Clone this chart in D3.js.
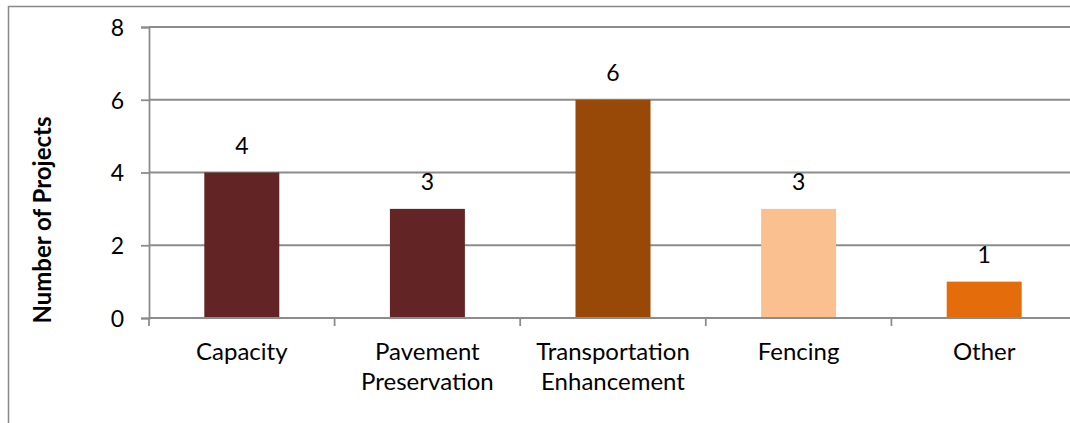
<!DOCTYPE html>
<html>
<head>
<meta charset="utf-8">
<script src="https://d3js.org/d3.v7.min.js"></script>
<style>
body { margin: 0; padding: 0; background: white; }
svg text { font-family: Lato, "Open Sans", sans-serif; fill: black; }
</style>
</head>
<body>
<svg id="chart" width="1070" height="423"></svg>
<script>
// data
var categories = ["Capacity", "Pavement Preservation", "Transportation Enhancement", "Fencing", "Other"];
var projects = [4, 3, 6, 3, 1];
var barColors = ["#632426", "#632426", "#984807", "#FAC090", "#E46C0A"];
var yTicks = [0, 2, 4, 6, 8];
var yTitle = "Number of Projects";

var svg = d3.select("#chart");

// outer chart border (right and bottom edges run off the picture)
svg.append("rect")
  .attr("x", 8.5).attr("y", 6.5)
  .attr("width", 1100).attr("height", 500)
  .attr("fill", "none")
  .attr("stroke", "#888")
  .attr("stroke-width", 1.5);

var plotL = 149, plotR = 1077, plotT = 27, plotB = 318;

var y = d3.scaleLinear().domain([0, 8]).range([plotB, plotT]);

// slots for ticks and labels, bars sit in the middle of each slot
var xSlot = d3.scaleBand().domain(categories).range([plotL, plotR]).padding(0);
var xBar = d3.scaleBand().domain(categories).range([plotL, plotR])
  .paddingInner(0.596).paddingOuter(0.298);

// gridlines
svg.append("g")
  .selectAll("line")
  .data(yTicks.filter(function(d) { return d > 0; }))
  .enter().append("line")
  .attr("x1", plotL).attr("x2", 1070)
  .attr("y1", function(d) { return y(d); })
  .attr("y2", function(d) { return y(d); })
  .attr("stroke", "#8c8c8c")
  .attr("stroke-width", 1.8);

// y axis
var yAxis = d3.axisLeft(y).tickValues(yTicks).tickSize(8).tickPadding(17);
var gy = svg.append("g").attr("transform", "translate(" + plotL + ",0)").call(yAxis);
gy.select(".domain").attr("stroke", "#8c8c8c").attr("stroke-width", 1.8);
gy.selectAll(".tick line").attr("stroke", "#8c8c8c").attr("stroke-width", 1.8);
gy.selectAll(".tick text").style("font-size", "23px").attr("dy", "0.36em");

// bars
svg.append("g")
  .selectAll("rect")
  .data(categories)
  .enter().append("rect")
  .attr("x", function(d) { return xBar(d); })
  .attr("y", function(d, i) { return y(projects[i]); })
  .attr("width", xBar.bandwidth())
  .attr("height", function(d, i) { return y(0) - y(projects[i]); })
  .attr("fill", function(d, i) { return barColors[i]; });

// value labels
svg.append("g")
  .selectAll("text")
  .data(categories)
  .enter().append("text")
  .attr("x", function(d) { return xBar(d) + xBar.bandwidth() / 2; })
  .attr("y", function(d, i) { return y(projects[i]) - 19; })
  .attr("text-anchor", "middle")
  .style("font-size", "23px")
  .text(function(d, i) { return projects[i]; });

// x axis line + boundary ticks
svg.append("line")
  .attr("x1", plotL).attr("x2", 1070)
  .attr("y1", plotB).attr("y2", plotB)
  .attr("stroke", "#8c8c8c").attr("stroke-width", 1.8);

svg.append("g")
  .selectAll("line")
  .data(categories)
  .enter().append("line")
  .attr("x1", function(d) { return xSlot(d); })
  .attr("x2", function(d) { return xSlot(d); })
  .attr("y1", plotB).attr("y2", plotB + 8)
  .attr("stroke", "#8c8c8c").attr("stroke-width", 1.8);

// category labels, wrapped on two lines where needed
var lbl = svg.append("g")
  .selectAll("text")
  .data(categories)
  .enter().append("text")
  .attr("x", function(d) { return xSlot(d) + xSlot.bandwidth() / 2; })
  .attr("y", 360)
  .attr("text-anchor", "middle")
  .style("font-size", "24px");

lbl.each(function(d) {
  var words = d.split(" ");
  var t = d3.select(this);
  words.forEach(function(w, k) {
    t.append("tspan")
      .attr("x", t.attr("x"))
      .attr("dy", k == 0 ? 0 : 30)
      .text(w);
  });
});

// y title
svg.append("text")
  .attr("transform", "translate(51,220) rotate(-90)")
  .attr("text-anchor", "middle")
  .style("font-size", "24px")
  .style("font-weight", "bold")
  .text(yTitle);
</script>
</body>
</html>
